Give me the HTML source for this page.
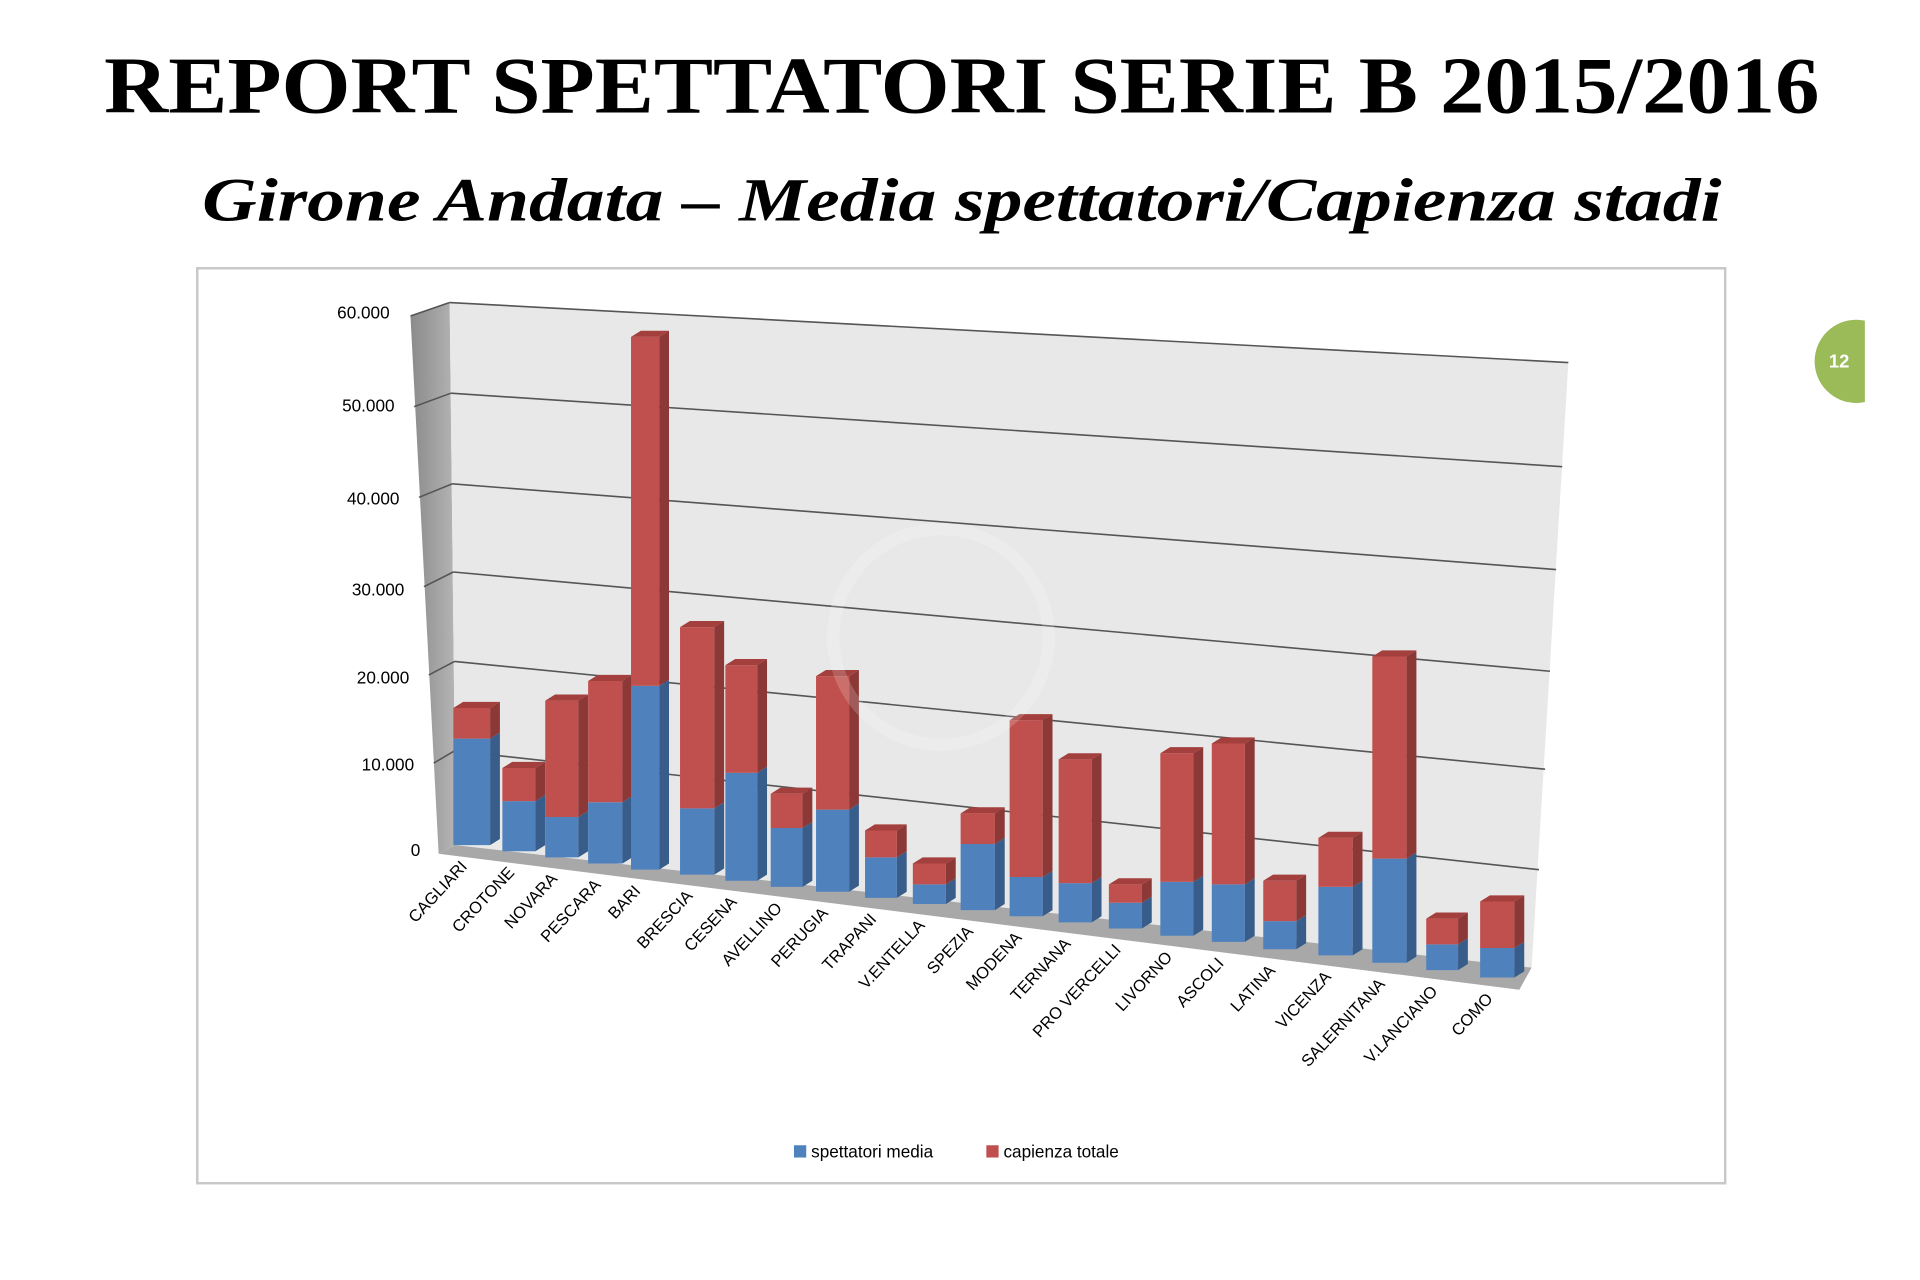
<!DOCTYPE html>
<html><head><meta charset="utf-8"><style>
html,body{margin:0;padding:0;background:#fff;width:1920px;height:1280px;overflow:hidden}
svg{display:block}
</style></head><body>
<svg width="1920" height="1280" viewBox="0 0 1567 1045" preserveAspectRatio="none" xmlns="http://www.w3.org/2000/svg">
<text x="785" y="92" text-anchor="middle" font-family="Liberation Serif, serif" font-weight="bold" font-size="66" textLength="1400" lengthAdjust="spacingAndGlyphs" fill="#000">REPORT SPETTATORI SERIE B 2015/2016</text>
<text x="785" y="180" text-anchor="middle" font-family="Liberation Serif, serif" font-weight="bold" font-style="italic" font-size="50" textLength="1240" lengthAdjust="spacingAndGlyphs" fill="#000">Girone Andata – Media spettatori/Capienza stadi</text>
<circle cx="1515" cy="295" r="34" fill="#9bbb59"/>
<rect x="1522" y="250" width="50" height="100" fill="#fff"/>
<text x="1501" y="300" text-anchor="middle" font-family="Liberation Sans, sans-serif" font-weight="bold" font-size="15" fill="#fff">12</text>
<rect x="161" y="219" width="1247" height="747" fill="#fff" stroke="#c8c8c8" stroke-width="2"/>
<defs><linearGradient id="sw" x1="0" x2="1"><stop offset="0" stop-color="#8a8a8a"/><stop offset="1" stop-color="#b5b5b5"/></linearGradient></defs>
<polygon points="335,258 367,247 372,690 358,697" fill="url(#sw)"/>
<polygon points="367,247 1280,296 1250,790 372,690" fill="#e8e8e8"/>
<polygon points="358,697 372,690 1250,790 1240,808" fill="#a8a8a8"/>
<g stroke="#555" stroke-width="1.3" fill="none">
<line x1="367" y1="247" x2="1280" y2="296"/>
<line x1="368" y1="321" x2="1275" y2="381"/>
<line x1="369" y1="395" x2="1270" y2="465"/>
<line x1="370" y1="467" x2="1265" y2="548"/>
<line x1="371" y1="540" x2="1261" y2="628"/>
<line x1="371" y1="613" x2="1256" y2="710"/>
<line x1="335" y1="258" x2="367" y2="247"/>
<line x1="338" y1="332" x2="368" y2="321"/>
<line x1="342" y1="406" x2="369" y2="395"/>
<line x1="346" y1="479" x2="370" y2="467"/>
<line x1="350" y1="551" x2="371" y2="540"/>
<line x1="354" y1="623" x2="371" y2="613"/>
</g>
<g font-family="Liberation Sans, sans-serif" font-size="14" fill="#000" text-anchor="end">
<text x="318" y="260">60.000</text><text x="322" y="336">50.000</text><text x="326" y="412">40.000</text><text x="330" y="486">30.000</text><text x="334" y="558">20.000</text><text x="338" y="629">10.000</text><text x="343" y="699">0</text>
</g>
<g id="bars"></g>
<g id="labels" font-family="Liberation Sans, sans-serif" font-size="13.5" fill="#000" text-anchor="end"></g>
<circle cx="768" cy="520" r="88" fill="none" stroke="#fff" stroke-opacity="0.18" stroke-width="10"/>
<rect x="648" y="935" width="10" height="10" fill="#4f81bd"/>
<text x="662" y="945" font-family="Liberation Sans, sans-serif" font-size="14">spettatori media</text>
<rect x="805" y="935" width="10" height="10" fill="#c0504d"/>
<text x="819" y="945" font-family="Liberation Sans, sans-serif" font-size="14">capienza totale</text>
</svg>
<script>
var d=[["CAGLIARI",370,400,690,603,578],["CROTONE",410,437,695,654,627],["NOVARA",445,472,700,667,572],["PESCARA",480,508,705,655,556],["BARI",515,538,710,560,275],["BRESCIA",555,583,714,660,512],["CESENA",592,618,719,631,543],["AVELLINO",629,655,724,676,648],["PERUGIA",666,693,728,661,552],["TRAPANI",706,732,733,700,678],["V.ENTELLA",745,772,738,722,705],["SPEZIA",784,812,743,689,664],["MODENA",824,851,748,716,588],["TERNANA",864,891,753,721,620],["PRO VERCELLI",905,932,758,737,722],["LIVORNO",947,974,764,720,615],["ASCOLI",989,1016,769,722,607],["LATINA",1031,1058,775,752,719],["VICENZA",1076,1104,780,724,684],["SALERNITANA",1120,1148,786,701,536],["V.LANCIANO",1164,1190,792,771,750],["COMO",1208,1236,798,774,736]];
var ns="http://www.w3.org/2000/svg",g=document.getElementById("bars"),lg=document.getElementById("labels");
function P(pts,f){var p=document.createElementNS(ns,"polygon");p.setAttribute("points",pts);p.setAttribute("fill",f);g.appendChild(p);}
d.forEach(function(b){var x1=b[1],x2=b[2],y=b[3],bt=b[4],rt=b[5],dx=8,dy=5;
P(x1+","+y+" "+x2+","+y+" "+x2+","+bt+" "+x1+","+bt,"#4f81bd");
P(x2+","+y+" "+(x2+dx)+","+(y-dy)+" "+(x2+dx)+","+(bt-dy)+" "+x2+","+bt,"#385d8a");
P(x1+","+bt+" "+x2+","+bt+" "+x2+","+rt+" "+x1+","+rt,"#c0504d");
P(x2+","+bt+" "+(x2+dx)+","+(bt-dy)+" "+(x2+dx)+","+(rt-dy)+" "+x2+","+rt,"#8c3836");
P(x1+","+rt+" "+(x1+dx)+","+(rt-dy)+" "+(x2+dx)+","+(rt-dy)+" "+x2+","+rt,"#a33f3c");
var t=document.createElementNS(ns,"text");var cx=(x1+x2)/2-3,cy=y+18;
t.setAttribute("x",cx);t.setAttribute("y",cy);t.setAttribute("transform","rotate(-47 "+cx+" "+cy+")");t.textContent=b[0];lg.appendChild(t);});
</script>
</body></html>
